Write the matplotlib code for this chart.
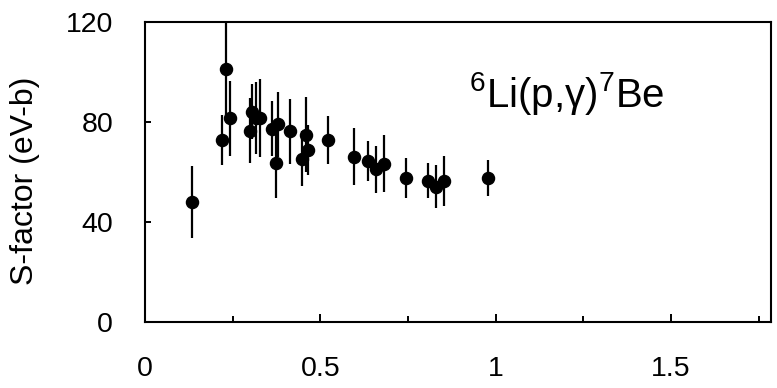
import matplotlib
matplotlib.use("Agg")
import matplotlib.pyplot as plt
from matplotlib.ticker import MultipleLocator

plt.rcParams['font.family'] = ['Liberation Sans', 'DejaVu Sans']
plt.rcParams['mathtext.fontset'] = 'custom'
plt.rcParams['mathtext.rm'] = 'Liberation Sans'
plt.rcParams['mathtext.it'] = 'Liberation Sans'

# 6Li(p,gamma)7Be astrophysical S-factor data
energy = [0.133, 0.219, 0.231, 0.243, 0.299, 0.304, 0.316, 0.329, 0.362,
          0.374, 0.380, 0.413, 0.448, 0.459, 0.465, 0.522, 0.596, 0.636,
          0.659, 0.682, 0.744, 0.807, 0.831, 0.853, 0.978]
sfactor = [47.8, 72.8, 101.2, 81.4, 76.3, 84.0, 81.5, 81.5, 77.2,
           63.4, 79.0, 76.2, 65.1, 74.7, 68.7, 72.7, 66.0, 64.1,
           61.0, 63.2, 57.4, 56.4, 54.0, 56.4, 57.4]
sfactor_err = [14.5, 10.0, 20.0, 15.0, 13.0, 11.0, 14.5, 15.5, 11.0,
               14.0, 13.0, 13.0, 11.0, 15.0, 10.0, 9.5, 11.5, 8.0,
               9.4, 11.5, 8.0, 7.0, 8.5, 10.0, 7.3]

x_ticks = [0, 0.5, 1, 1.5]
x_ticklabels = ['0', '0.5', '1', '1.5']
y_ticks = [0, 40, 80, 120]

fig = plt.figure(figsize=(7.77, 3.88), dpi=100)
ax = fig.add_axes([0.1866, 0.1709, 0.8057, 0.7731])

ax.errorbar(energy, sfactor, yerr=sfactor_err, fmt='o', color='black',
            markersize=8.7, elinewidth=1.6, capsize=0, clip_on=True)

ax.set_xlim(0, 1.785)
ax.set_ylim(0, 120)
ax.set_xticks(x_ticks)
ax.set_xticklabels(x_ticklabels)
ax.xaxis.set_minor_locator(MultipleLocator(0.25))
ax.set_yticks(y_ticks)

ax.tick_params(axis='x', which='major', direction='in', length=6, width=1.4,
               labelsize=20.5, pad=25, top=False)
ax.tick_params(axis='x', which='minor', direction='in', length=4.5, width=1.4,
               top=False)
ax.tick_params(axis='y', direction='in', length=4, width=1.4, labelsize=20.5,
               pad=23, right=False)
for s in ax.spines.values():
    s.set_linewidth(1.5)

ax.set_ylabel('S-factor (eV-b)', fontsize=23)
ax.yaxis.set_label_coords(-0.168, 0.47)

ax.text(0.925, 86, r'$^{6}$Li(p,γ)$^{7}$Be', fontsize=29,
        ha='left', va='baseline')

fig.savefig('out.png', dpi=100)
